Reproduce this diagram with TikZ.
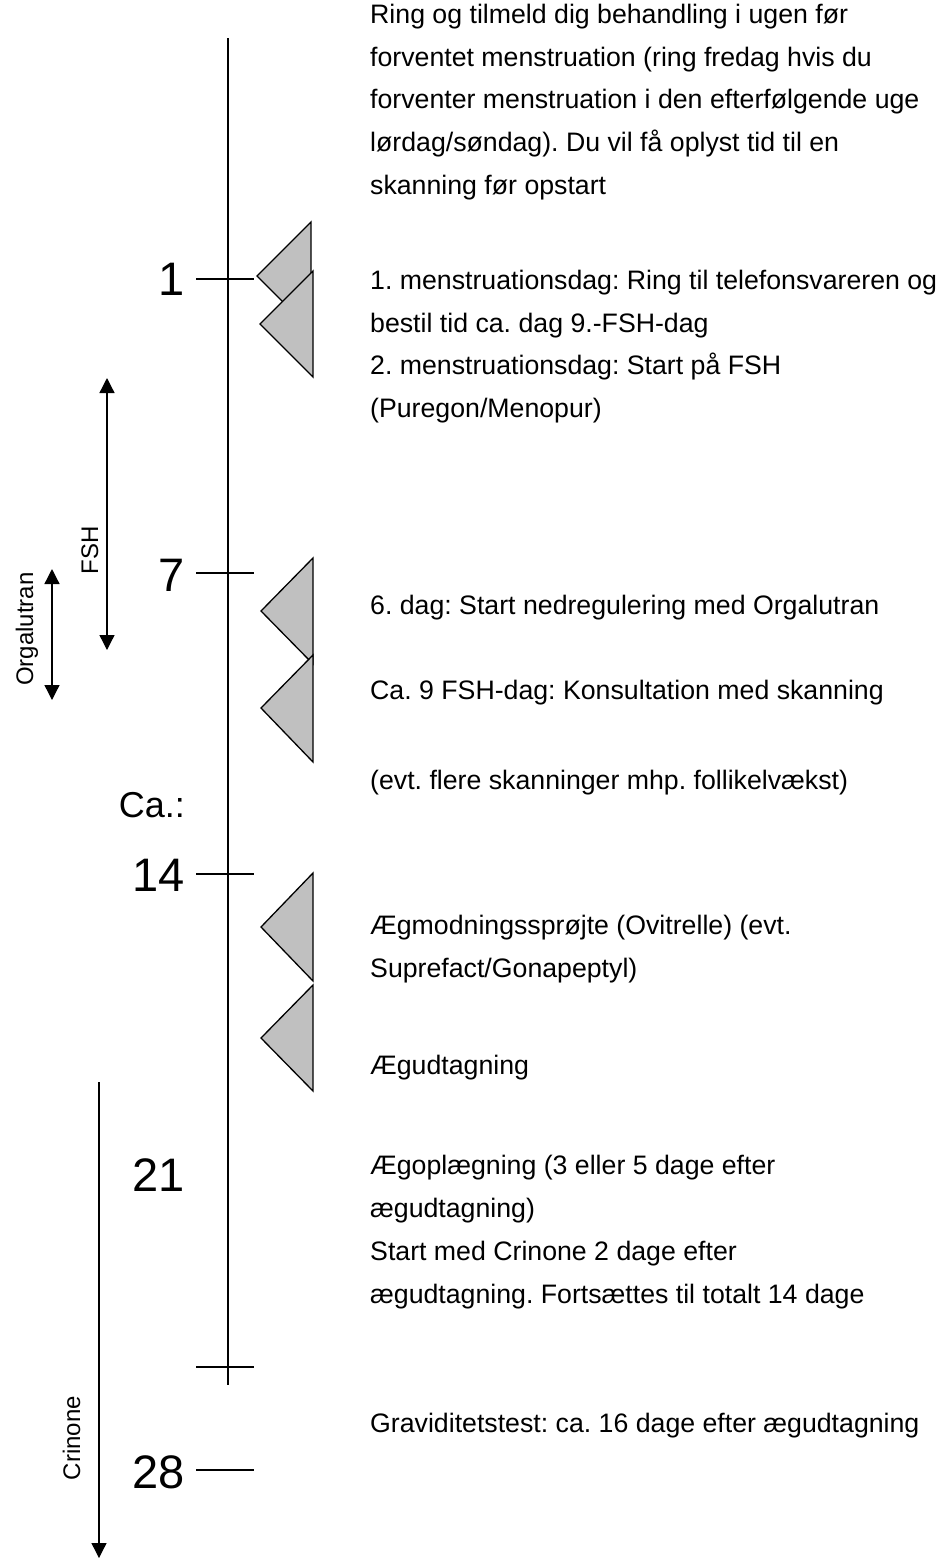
\documentclass[tikz,border=0pt]{standalone}
\usepackage{fontspec}
\setmainfont{Liberation Sans}
\usetikzlibrary{arrows.meta}
\definecolor{trigray}{HTML}{C0C0C0}
\frenchspacing
\tikzset{
  body/.style={anchor=base west, inner sep=0pt, font=\fontsize{26.7}{32}\selectfont},
  daynum/.style={anchor=east, inner sep=0pt, font=\fontsize{47}{56}\selectfont},
  calabel/.style={anchor=east, inner sep=0pt, font=\fontsize{36}{42}\selectfont},
  sidelabel/.style={rotate=90, anchor=base, inner sep=0pt, font=\fontsize{24}{28}\selectfont},
  axisline/.style={line width=2pt},
  tickline/.style={line width=2pt},
  marker/.style={draw=black, fill=trigray, line width=1.3pt, line join=miter},
  span/.style={line width=1.3pt, {Triangle[width=15pt,length=15pt]}-{Triangle[width=15pt,length=15pt]}},
  spanend/.style={line width=1.3pt, -{Triangle[width=15pt,length=15pt]}},
}
\begin{document}
\begin{tikzpicture}[x=1pt,y=-1pt]
\useasboundingbox (0,0) rectangle (948,1559);

% main time axis
\coordinate (axtop) at (228,38);
\coordinate (axbot) at (228,1385);
\draw[axisline] (axtop) -- (axbot);

% ticks
\coordinate (t1a) at (196,279);  \coordinate (t1b) at (254,279);
\coordinate (t7a) at (196,573);  \coordinate (t7b) at (254,573);
\coordinate (t14a) at (196,874); \coordinate (t14b) at (254,874);
\coordinate (tea) at (196,1367); \coordinate (teb) at (254,1367);
\coordinate (t28a) at (196,1470); \coordinate (t28b) at (254,1470);
\draw[tickline] (t1a) -- (t1b);
\draw[tickline] (t7a) -- (t7b);
\draw[tickline] (t14a) -- (t14b);
\draw[tickline] (tea) -- (teb);
\draw[tickline] (t28a) -- (t28b);

% day numbers
\node[daynum] (d1) at (185,279) {1};
\node[daynum] (d7) at (185,575) {7};
\node[calabel] (dca) at (185,805) {Ca.:};
\node[daynum] (d14) at (185,875) {14};
\node[daynum] (d21) at (185,1175) {21};
\node[daynum] (d28) at (185,1472) {28};

% triangle markers
\filldraw[marker] (311,222) -- (257,276) -- (311,330) -- cycle;
\filldraw[marker] (313,271) -- (260,324) -- (313,377) -- cycle;
\filldraw[marker] (313,558) -- (261,611) -- (313,664) -- cycle;
\filldraw[marker] (313,655) -- (261,708) -- (313,762) -- cycle;
\filldraw[marker] (313,873) -- (261,927) -- (313,981) -- cycle;
\filldraw[marker] (313,985) -- (261,1038) -- (313,1091) -- cycle;

% side spans
\coordinate (fshT) at (107,378); \coordinate (fshB) at (107,650);
\draw[span] (fshT) -- (fshB);
\node[sidelabel] (fshL) at (98,550) {FSH};
\coordinate (orgT) at (52,569); \coordinate (orgB) at (52,700);
\draw[span] (orgT) -- (orgB);
\node[sidelabel] (orgL) at (33,629) {Orgalutran};
\coordinate (criT) at (99,1082); \coordinate (criB) at (99,1558);
\draw[spanend] (criT) -- (criB);
\node[sidelabel] (criL) at (80,1438) {Crinone};

% texts
\node[body] (a1) at (370,23)  {Ring og tilmeld dig behandling i ugen før};
\node[body] (a2) at (370,66)  {forventet menstruation (ring fredag hvis du};
\node[body] (a3) at (370,108) {forventer menstruation i den efterfølgende uge};
\node[body] (a4) at (370,151) {lørdag/søndag). Du vil få oplyst tid til en};
\node[body] (a5) at (370,194) {skanning før opstart};

\node[body] (b1) at (370,289) {1. menstruationsdag: Ring til telefonsvareren og};
\node[body] (b2) at (370,332) {bestil tid ca. dag 9.-FSH-dag};
\node[body] (b3) at (370,374) {2. menstruationsdag: Start på FSH};
\node[body] (b4) at (370,417) {(Puregon/Menopur)};

\node[body] (c1) at (370,614) {6. dag: Start nedregulering med Orgalutran};
\node[body] (c2) at (370,699) {Ca. 9 FSH-dag: Konsultation med skanning};
\node[body] (c3) at (370,789) {(evt. flere skanninger mhp. follikelvækst)};

\node[body] (e1) at (370,934) {Ægmodningssprøjte (Ovitrelle) (evt.};
\node[body] (e2) at (370,977) {Suprefact/Gonapeptyl)};
\node[body] (e3) at (370,1074) {Ægudtagning};

\node[body] (f1) at (370,1174) {Ægoplægning (3 eller 5 dage efter};
\node[body] (f2) at (370,1217) {ægudtagning)};
\node[body] (f3) at (370,1260) {Start med Crinone 2 dage efter};
\node[body] (f4) at (370,1303) {ægudtagning. Fortsættes til totalt 14 dage};

\node[body] (g1) at (370,1432) {Graviditetstest: ca. 16 dage efter ægudtagning};
\end{tikzpicture}
\end{document}
